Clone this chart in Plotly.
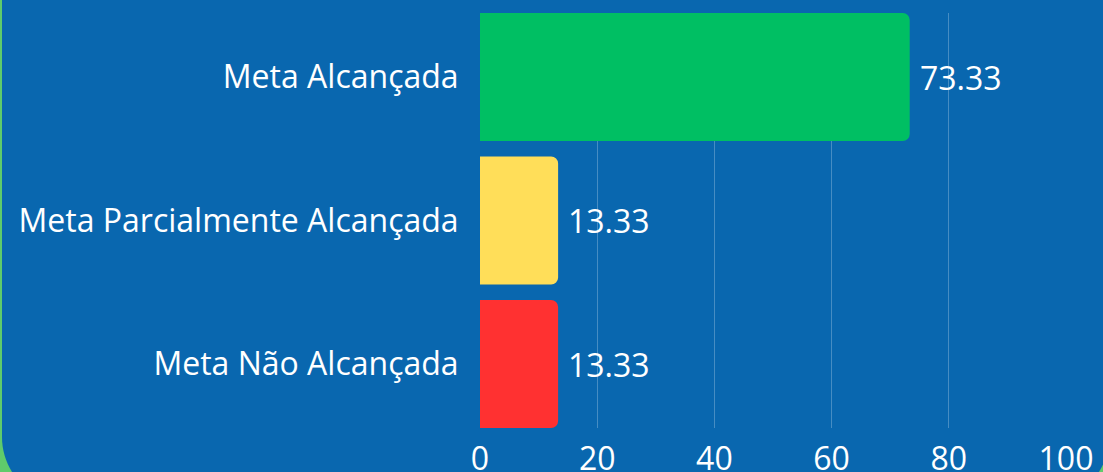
import plotly.graph_objects as go

categories = ["Meta Alcançada", "Meta Parcialmente Alcançada", "Meta Não Alcançada"]
values = [73.33, 13.33, 13.33]
bar_colors = ["#00BF63", "#FFDE59", "#FF3131"]
x_ticks = [0, 20, 40, 60, 80, 100]

W, H = 1103, 472
L, R, T, B = 480, 37, 13, 44
PW, PH = W - L - R, H - T - B

BLUE = "#0967AF"
GREEN = "#5FCB6B"
FONT = "Open Sans"

def px(x):
    return (x - L) / PW

def py(y):
    return (H - B - y) / PH

# rounded background panel
x0, x1, y0, y1, r = 2, 1109, -80, 503, 66
k = 0.5523 * r
path = (
    f"M {px(x0)},{py(y0)} "
    f"L {px(x1)},{py(y0)} "
    f"L {px(x1)},{py(y1 - r)} "
    f"C {px(x1)},{py(y1 - r + k)} {px(x1 - r + k)},{py(y1)} {px(x1 - r)},{py(y1)} "
    f"L {px(x0 + r)},{py(y1)} "
    f"C {px(x0 + r - k)},{py(y1)} {px(x0)},{py(y1 - r + k)} {px(x0)},{py(y1 - r)} Z"
)

fig = go.Figure()
fig.add_trace(go.Bar(
    y=list(range(len(categories))),
    x=values,
    orientation="h",
    marker=dict(color=bar_colors, line=dict(width=0)),
    width=0.892,
    hoverinfo="skip",
))

for i, v in enumerate(values):
    fig.add_annotation(
        x=v, y=i, xref="x", yref="y", text=f"{v:.2f}",
        showarrow=False, xanchor="left", yanchor="middle", xshift=8,
        font=dict(family=FONT, size=32, color="white"),
    )

fig.update_layout(
    width=W, height=H,
    margin=dict(l=L, r=R, t=T, b=B, pad=0, autoexpand=False),
    paper_bgcolor=GREEN,
    plot_bgcolor="rgba(0,0,0,0)",
    barcornerradius=7,
    showlegend=False,
    font=dict(family=FONT, size=32, color="white"),
    shapes=[dict(type="path", path=path, xref="paper", yref="paper",
                 fillcolor=BLUE, line=dict(width=0), layer="below")],
)
fig.update_xaxes(
    automargin=False,
    range=[0, 100], tickvals=x_ticks, ticktext=[str(t) for t in x_ticks],
    showgrid=True, gridcolor="rgba(255,255,255,0.25)", gridwidth=1,
    zeroline=False, showline=False,
    ticks="outside", ticklen=3, tickcolor="rgba(0,0,0,0)", fixedrange=True,
    tickfont=dict(family=FONT, size=32, color="white"),
)
fig.update_yaxes(
    automargin=False,
    range=[2 + 0.446, -0.446],
    tickvals=list(range(len(categories))), ticktext=categories,
    showgrid=False, zeroline=False, showline=False,
    ticks="outside", ticklen=14, tickcolor="rgba(0,0,0,0)",
    tickfont=dict(family=FONT, size=32, color="white"),
)

fig.write_html(
    "out.html",
    config={"displayModeBar": False},
    post_script="document.body.style.margin='0';document.body.style.overflow='hidden';",
)
